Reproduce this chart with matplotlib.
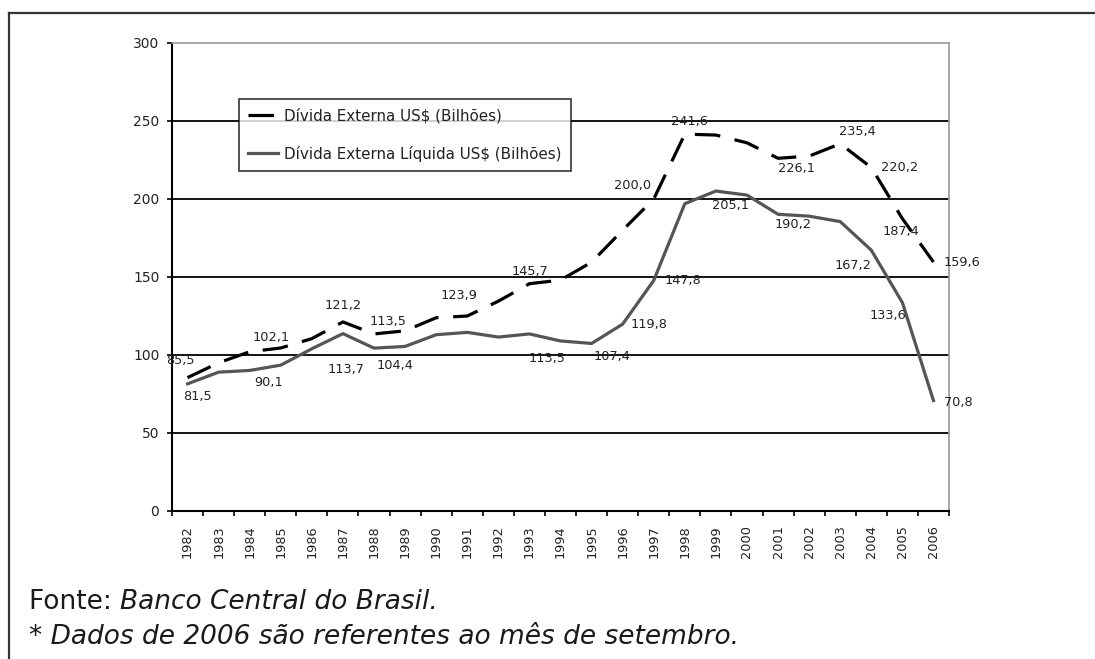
import matplotlib.pyplot as plt
from matplotlib.lines import Line2D

# dados (US$ bilhões)
anos = [str(a) for a in range(1982, 2007)]
divida_externa = [85.5, 95.0, 102.1, 104.5, 110.5, 121.2, 113.5, 115.5, 123.9, 125.0,
                  134.5, 145.7, 148.0, 159.5, 180.0, 200.0, 241.6, 241.0, 236.0, 226.1,
                  227.5, 235.4, 220.2, 187.4, 159.6]
divida_liquida = [81.5, 89.0, 90.1, 93.5, 104.0, 113.7, 104.4, 105.5, 113.0, 114.5,
                  111.5, 113.5, 109.0, 107.4, 119.8, 147.8, 197.0, 205.1, 202.5, 190.2,
                  189.0, 185.5, 167.2, 133.6, 70.8]

# rótulos: (índice, texto, dx, dy) em pixels
rot_externa = [(0, '85,5', -7, 17), (2, '102,1', 21, 14), (5, '121,2', 0, 16),
               (6, '113,5', 14, 12), (8, '123,9', 23, 22), (11, '145,7', 1, 12),
               (15, '200,0', -21, 13), (16, '241,6', 5, 13), (19, '226,1', 18, -10),
               (21, '235,4', 17, 12), (22, '220,2', 28, 0), (23, '187,4', -1, -13),
               (24, '159,6', 28, 0)]
rot_liquida = [(0, '81,5', 10, -13), (2, '90,1', 19, -12), (5, '113,7', 3, -36),
               (6, '104,4', 21, -17), (11, '113,5', 18, -25), (13, '107,4', 20, -13),
               (14, '119,8', 26, 0), (15, '147,8', 29, 0), (17, '205,1', 15, -14),
               (19, '190,2', 15, -10), (22, '167,2', -18, -15), (23, '133,6', -14, -13),
               (24, '70,8', 25, -2)]

W, H = 1095, 659
fig = plt.figure(figsize=(W / 100, H / 100), dpi=100)
ax = fig.add_axes([172 / W, 1 - 511 / H, (949 - 172) / W, (511 - 43) / H])

x = list(range(len(anos)))
ax.set_ylim(0, 300)
ax.set_xlim(-0.5, len(anos) - 0.5)

for v in range(50, 300, 50):
    ax.axhline(v, color='black', lw=1.3, zorder=1)

l1, = ax.plot(x, divida_externa, color='black', lw=2.3, dashes=(8, 4.6),
              solid_capstyle='butt', zorder=3)
l2, = ax.plot(x, divida_liquida, color='#555555', lw=2.3, zorder=2)

for i, t, dx, dy in rot_externa:
    ax.annotate(t, (x[i], divida_externa[i]), xytext=(dx, dy), textcoords='offset pixels',
                ha='center', va='center', fontsize=9.3, color='#222222', zorder=5)
for i, t, dx, dy in rot_liquida:
    ax.annotate(t, (x[i], divida_liquida[i]), xytext=(dx, dy), textcoords='offset pixels',
                ha='center', va='center', fontsize=9.3, color='#222222', zorder=5)

ax.set_yticks(range(0, 301, 50))
ax.tick_params(axis='y', length=3.6, width=1.2, labelsize=10, labelcolor='#222222', pad=5.5)
ax.set_xticks(x)
ax.set_xticklabels(anos, rotation=90, fontsize=9.3, color='#222222')
ax.set_xticks([i - 0.5 for i in range(len(anos) + 1)], minor=True)
ax.tick_params(axis='x', which='major', length=0, pad=10)
ax.tick_params(axis='x', which='minor', length=3.6, width=1.2)

for s in ['left', 'bottom']:
    ax.spines[s].set_linewidth(1.5)
    ax.spines[s].set_color('black')
for s in ['top', 'right']:
    ax.spines[s].set_linewidth(1.2)
    ax.spines[s].set_color('#999999')

leg = ax.legend([l1, l2], ['Dívida Externa US$ (Bilhões)', 'Dívida Externa Líquida US$ (Bilhões)'],
                loc='upper left', bbox_to_anchor=(239 / W, 1 - 99 / H),
                bbox_transform=fig.transFigure, frameon=True, fancybox=False,
                fontsize=10.9, handlelength=2.0, handletextpad=0.4, labelspacing=1.45,
                borderpad=0.6, borderaxespad=0)
leg.get_frame().set_edgecolor('black')
leg.get_frame().set_linewidth(1.2)
for t in leg.get_texts():
    t.set_color('#222222')

# moldura externa
fig.add_artist(Line2D([9 / W, 1], [1 - 13 / H, 1 - 13 / H], color='#333333', lw=1.6))
fig.add_artist(Line2D([9 / W, 9 / W], [0, 1 - 13 / H], color='#333333', lw=1.6))

# rodapé
fonte = fig.text(29 / W, 1 - 602 / H, 'Fonte: ', fontsize=19, family='DejaVu Sans',
                 va='center', color='#1a1a1a')
r = fig.canvas.get_renderer()
bb = fonte.get_window_extent(r)
fig.text(bb.x1 / W, 1 - 602 / H, 'Banco Central do Brasil.', fontsize=19, family='DejaVu Sans',
         style='italic', va='center', color='#1a1a1a')
fig.text(29 / W, 1 - 637 / H, '* Dados de 2006 são referentes ao mês de setembro.', fontsize=19,
         family='DejaVu Sans', style='italic', va='center', color='#1a1a1a')

fig.savefig('out.png', dpi=100)
